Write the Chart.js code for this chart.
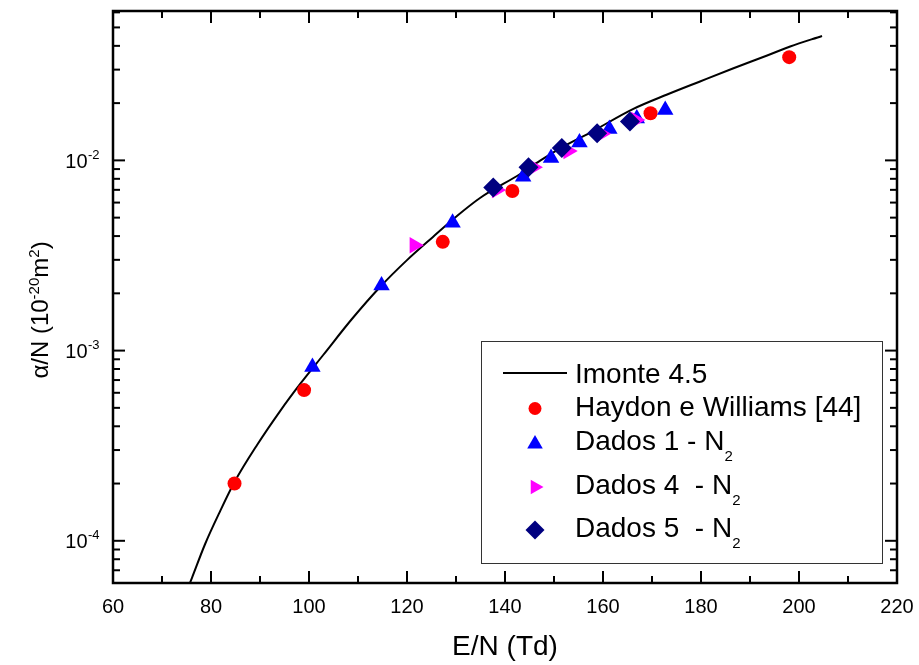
<!DOCTYPE html>
<html>
<head>
<meta charset="utf-8">
<title>alfa/N em N2</title>
<script src="https://cdn.jsdelivr.net/npm/chart.js@4.4.1/dist/chart.umd.min.js"></script>
<style>
  html, body { margin: 0; padding: 0; background: #fff; }
  #wrap { width: 919px; height: 665px; }
</style>
</head>
<body>
<div id="wrap"><canvas id="alphaChart" width="919" height="665"></canvas></div>
<script>
// Curva calculada (Imonte 4.5): E/N em Td, alfa/N em 10^-20 m2
const curveE = [75.7, 76.1, 78.8, 81.8, 84.9, 89.4, 94.1, 98.2, 102.9, 108.8, 114.5, 120.0, 125.3,
  130.2, 134.9, 143.1, 147.1, 151.8, 157.4, 166.1, 173.1, 179.8, 186.5, 193.5, 198.2, 204.7];
const curveAlpha = [6.0e-5, 6.37e-5, 9.62e-5, 1.42e-4, 2.06e-4, 3.19e-4, 4.81e-4, 6.68e-4, 9.48e-4,
  1.47e-3, 2.16e-3, 2.99e-3, 3.96e-3, 5.10e-3, 6.34e-3, 8.48e-3, 9.93e-3, 1.176e-2, 1.40e-2,
  1.86e-2, 2.22e-2, 2.60e-2, 3.04e-2, 3.56e-2, 3.97e-2, 4.51e-2];

// Haydon e Williams [44]
const haydonE = [84.8, 99.0, 127.3, 141.5, 169.7, 198.0];
const haydonAlpha = [2.0e-4, 6.2e-4, 3.73e-3, 6.9e-3, 1.77e-2, 3.49e-2];

// Dados 1 - N2
const dados1E = [100.7, 114.8, 129.3, 143.7, 149.4, 155.2, 161.3, 166.9, 172.7];
const dados1Alpha = [8.2e-4, 2.2e-3, 4.7e-3, 8.2e-3, 1.03e-2, 1.24e-2, 1.46e-2, 1.66e-2, 1.84e-2];

// Dados 4 - N2
const dados4E = [121.5, 138.3, 145.8, 152.9, 159.7, 166.7];
const dados4Alpha = [3.58e-3, 6.98e-3, 9.2e-3, 1.12e-2, 1.38e-2, 1.63e-2];

// Dados 5 - N2
const dados5E = [137.6, 144.8, 151.6, 158.8, 165.5];
const dados5Alpha = [7.2e-3, 9.2e-3, 1.16e-2, 1.39e-2, 1.60e-2];

// Eixos
const xTickLabels = ['60', '80', '100', '120', '140', '160', '180', '200', '220'];
const yExpoentes = [-4, -3, -2];

const FONTE = '"Liberation Sans", Arial, sans-serif';

function pontos(xs, ys) {
  return xs.map((x, i) => ({ x: x, y: ys[i] }));
}

function linha(ctx, x1, y1, x2, y2) {
  ctx.beginPath();
  ctx.moveTo(x1, y1);
  ctx.lineTo(x2, y2);
  ctx.stroke();
}

// marcador simples para a legenda
function desenharMarcador(ctx, tipo, x, y, r, cor) {
  ctx.save();
  ctx.fillStyle = cor;
  ctx.beginPath();
  if (tipo === 'circle') {
    ctx.arc(x, y, r, 0, Math.PI * 2);
  } else if (tipo === 'triangle') {
    ctx.moveTo(x, y - r);
    ctx.lineTo(x + r * Math.sin(Math.PI * 2 / 3), y - r * Math.cos(Math.PI * 2 / 3));
    ctx.lineTo(x - r * Math.sin(Math.PI * 2 / 3), y - r * Math.cos(Math.PI * 2 / 3));
  } else if (tipo === 'right') {
    ctx.moveTo(x + r, y);
    ctx.lineTo(x - r / 2, y - r * Math.sin(Math.PI / 3));
    ctx.lineTo(x - r / 2, y + r * Math.sin(Math.PI / 3));
  } else if (tipo === 'diamond') {
    ctx.moveTo(x, y - r);
    ctx.lineTo(x + r, y);
    ctx.lineTo(x, y + r);
    ctx.lineTo(x - r, y);
  }
  ctx.closePath();
  ctx.fill();
  ctx.restore();
}

// texto com índice (sobrescrito ou subscrito) logo a seguir
function textoComIndice(ctx, partes, x, y) {
  let cx = x;
  partes.forEach(p => {
    ctx.font = p.size + 'px ' + FONTE;
    ctx.fillText(p.t, cx, y + (p.dy || 0));
    cx += ctx.measureText(p.t).width;
  });
  return cx;
}

function larguraPartes(ctx, partes) {
  let w = 0;
  partes.forEach(p => {
    ctx.font = p.size + 'px ' + FONTE;
    w += ctx.measureText(p.t).width;
  });
  return w;
}

const molduraPlugin = {
  id: 'moldura',
  afterDraw(chart) {
    const ctx = chart.ctx;
    const a = chart.chartArea;
    const sx = chart.scales.x;
    const sy = chart.scales.y;

    ctx.save();
    ctx.strokeStyle = '#000';
    ctx.fillStyle = '#000';
    ctx.lineWidth = 2;

    // ticks do eixo x (para dentro, em baixo e em cima)
    for (let v = sx.min; v <= sx.max; v += 10) {
      const px = sx.getPixelForValue(v);
      const len = (v % 20 === 0) ? 12 : 7;
      linha(ctx, px, a.bottom, px, a.bottom - len);
      linha(ctx, px, a.top, px, a.top + len);
    }

    // ticks do eixo y logarítmico
    for (let e = -5; e <= -1; e++) {
      for (let k = 1; k <= 9; k++) {
        const v = k * Math.pow(10, e);
        if (v < sy.min * 0.999 || v > sy.max * 1.001) continue;
        const py = sy.getPixelForValue(v);
        const len = (k === 1) ? 12 : 7;
        linha(ctx, a.left, py, a.left + len, py);
        linha(ctx, a.right, py, a.right - len, py);
      }
    }

    // moldura
    ctx.lineWidth = 2.5;
    ctx.strokeRect(a.left, a.top, a.right - a.left, a.bottom - a.top);

    // rótulos do eixo x
    ctx.font = '20px ' + FONTE;
    ctx.textAlign = 'center';
    ctx.textBaseline = 'alphabetic';
    xTickLabels.forEach(l => {
      ctx.fillText(l, sx.getPixelForValue(Number(l)), 613);
    });

    // rótulos do eixo y: 10 com expoente
    yExpoentes.forEach(e => {
      const py = sy.getPixelForValue(Math.pow(10, e));
      ctx.textAlign = 'right';
      ctx.font = '20px ' + FONTE;
      ctx.fillText('10', 87.5, py + 7.5);
      ctx.textAlign = 'left';
      ctx.font = '13px ' + FONTE;
      ctx.fillText(String(e), 88, py - 1.5);
    });

    // título do eixo x
    ctx.textAlign = 'center';
    ctx.font = '28px ' + FONTE;
    ctx.fillText('E/N (Td)', (a.left + a.right) / 2, 655);

    // título do eixo y (rodado)
    ctx.textAlign = 'left';
    const tituloY = [
      { t: '\u03b1/N (10', size: 24 },
      { t: '-20', size: 15, dy: -9 },
      { t: 'm', size: 24 },
      { t: '2', size: 15, dy: -9 },
      { t: ')', size: 24 }
    ];
    ctx.save();
    ctx.translate(48, 310);
    ctx.rotate(-Math.PI / 2);
    const wY = larguraPartes(ctx, tituloY);
    textoComIndice(ctx, tituloY, -wY / 2, 0);
    ctx.restore();

    // legenda
    const bx = 481, by = 341, bw = 401, bh = 222;
    ctx.fillStyle = '#fff';
    ctx.fillRect(bx, by, bw, bh);
    ctx.strokeStyle = '#333';
    ctx.lineWidth = 1;
    ctx.strokeRect(bx + 0.5, by + 0.5, bw, bh);

    const ds = chart.data.datasets;
    ctx.strokeStyle = ds[0].borderColor;
    ctx.lineWidth = 2;
    linha(ctx, 503, 373, 567, 373);

    desenharMarcador(ctx, 'circle', 535, 408.5, 6.5, ds[1].backgroundColor);
    desenharMarcador(ctx, 'triangle', 535, 444, 9, ds[2].backgroundColor);
    desenharMarcador(ctx, 'right', 535, 487, 8.5, ds[3].backgroundColor);
    desenharMarcador(ctx, 'diamond', 535, 530, 9.5, ds[4].backgroundColor);

    ctx.fillStyle = '#000';
    ctx.textAlign = 'left';
    const tx = 575;
    textoComIndice(ctx, [{ t: 'Imonte 4.5', size: 28 }], tx, 383);
    textoComIndice(ctx, [{ t: 'Haydon e Williams [44]', size: 28 }], tx, 416);
    textoComIndice(ctx, [{ t: 'Dados 1 - N', size: 28 }, { t: '2', size: 15, dy: 11 }], tx, 450);
    textoComIndice(ctx, [{ t: 'Dados 4  - N', size: 28 }, { t: '2', size: 15, dy: 11 }], tx, 494);
    textoComIndice(ctx, [{ t: 'Dados 5  - N', size: 28 }, { t: '2', size: 15, dy: 11 }], tx, 537);

    ctx.restore();
  }
};

const ctx = document.getElementById('alphaChart').getContext('2d');
const alphaChart = new Chart(ctx, {
  type: 'scatter',
  data: {
    datasets: [{
      label: 'Imonte 4.5',
      data: pontos(curveE, curveAlpha),
      showLine: true,
      borderColor: '#000',
      borderWidth: 2,
      pointRadius: 0,
      cubicInterpolationMode: 'monotone',
      order: 5
    }, {
      label: 'Haydon e Williams [44]',
      data: pontos(haydonE, haydonAlpha),
      pointStyle: 'circle',
      pointRadius: 7,
      backgroundColor: '#ff0000',
      borderColor: '#ff0000',
      borderWidth: 0,
      order: 4
    }, {
      label: 'Dados 1 - N2',
      data: pontos(dados1E, dados1Alpha),
      pointStyle: 'triangle',
      pointRadius: 9.5,
      backgroundColor: '#0000ff',
      borderColor: '#0000ff',
      borderWidth: 0,
      order: 3
    }, {
      label: 'Dados 4  - N2',
      data: pontos(dados4E, dados4Alpha),
      pointStyle: 'triangle',
      rotation: 90,
      pointRadius: 9.5,
      backgroundColor: '#ff00ff',
      borderColor: '#ff00ff',
      borderWidth: 0,
      order: 2
    }, {
      label: 'Dados 5  - N2',
      data: pontos(dados5E, dados5Alpha),
      pointStyle: 'rectRot',
      pointRadius: 10,
      backgroundColor: '#000080',
      borderColor: '#000080',
      borderWidth: 0,
      order: 1
    }]
  },
  options: {
    responsive: false,
    animation: false,
    devicePixelRatio: 1,
    layout: {
      padding: { left: 113, top: 11, right: 22, bottom: 82 }
    },
    plugins: {
      legend: { display: false },
      tooltip: { enabled: false }
    },
    scales: {
      x: {
        type: 'linear',
        min: 60,
        max: 220,
        display: false
      },
      y: {
        type: 'logarithmic',
        min: 6e-5,
        max: 6.1e-2,
        display: false
      }
    }
  },
  plugins: [molduraPlugin]
});
</script>
</body>
</html>
